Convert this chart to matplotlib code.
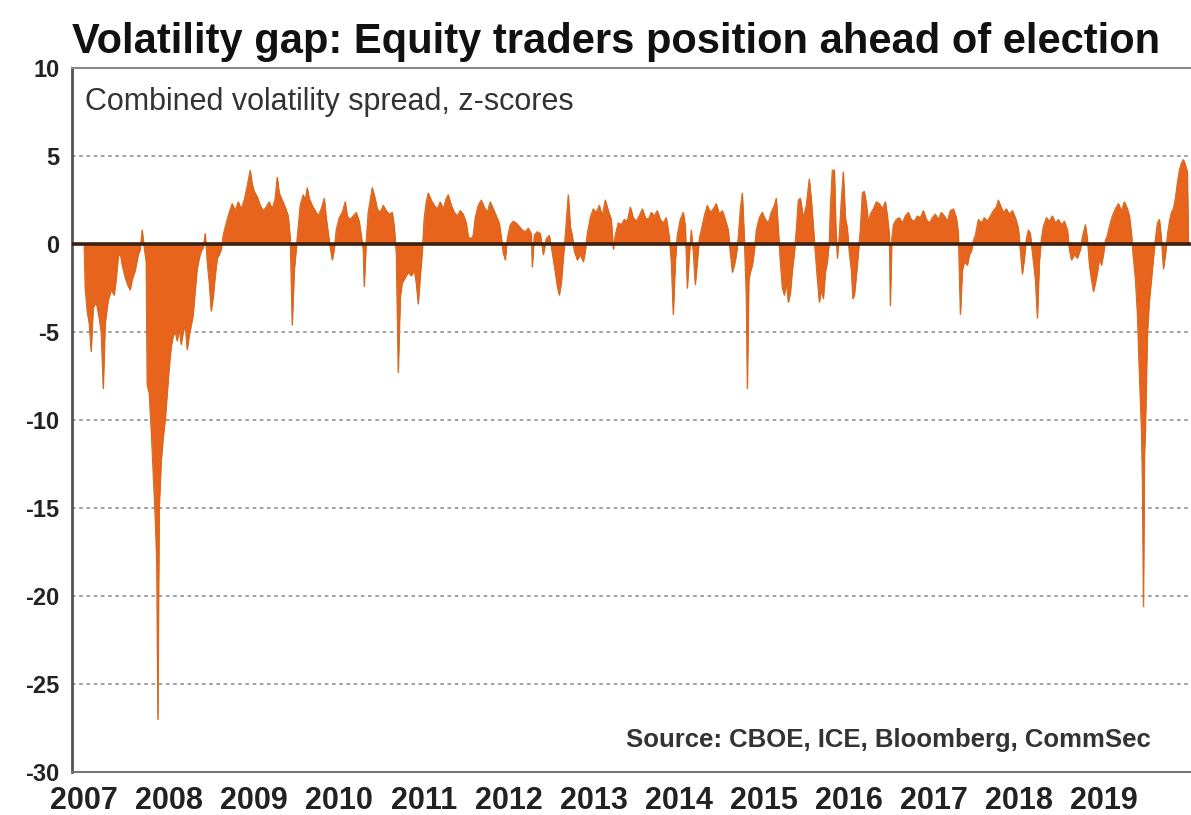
import matplotlib
matplotlib.use("Agg")
import matplotlib.pyplot as plt
import numpy as np

plt.rcParams['font.family'] = ['Liberation Sans', 'DejaVu Sans']

# combined volatility spread, z-scores (decimal years)
dates = [
    2007.000, 2007.012, 2007.035, 2007.059, 2007.082, 2007.106, 2007.141, 2007.176, 2007.200, 2007.224,
    2007.247, 2007.282, 2007.318, 2007.353, 2007.376, 2007.400, 2007.424, 2007.447, 2007.482, 2007.518,
    2007.541, 2007.565, 2007.600, 2007.635, 2007.659, 2007.682, 2007.706, 2007.729,
    2007.741, 2007.765, 2007.788, 2007.812, 2007.835, 2007.853, 2007.867, 2007.882, 2007.906, 2007.929,
    2007.953, 2007.976, 2008.000, 2008.024, 2008.047, 2008.071, 2008.094, 2008.118, 2008.141, 2008.165,
    2008.188, 2008.212, 2008.235, 2008.259, 2008.282, 2008.306, 2008.329, 2008.353, 2008.376, 2008.400,
    2008.424, 2008.447, 2008.471, 2008.494, 2008.518, 2008.541, 2008.565, 2008.588, 2008.612,
    2008.635, 2008.671, 2008.706, 2008.741, 2008.776, 2008.812, 2008.847, 2008.882, 2008.918, 2008.953,
    2008.976, 2009.000, 2009.035, 2009.071, 2009.106, 2009.141, 2009.176, 2009.212, 2009.247, 2009.271,
    2009.294, 2009.329, 2009.365, 2009.400, 2009.424, 2009.447, 2009.471, 2009.494,
    2009.518, 2009.541, 2009.576, 2009.600, 2009.624, 2009.647, 2009.682, 2009.718, 2009.753, 2009.788,
    2009.824, 2009.847, 2009.871, 2009.894, 2009.918, 2009.941,
    2009.965, 2010.000, 2010.035, 2010.071, 2010.094, 2010.129, 2010.165, 2010.200, 2010.235, 2010.259,
    2010.282, 2010.294, 2010.318,
    2010.341, 2010.365, 2010.388, 2010.412, 2010.447, 2010.482, 2010.518, 2010.553, 2010.588, 2010.624,
    2010.647, 2010.671,
    2010.694, 2010.718, 2010.741, 2010.776, 2010.812, 2010.847, 2010.882, 2010.906, 2010.929, 2010.953,
    2010.976,
    2011.000, 2011.024, 2011.047, 2011.082, 2011.118, 2011.153, 2011.188, 2011.224, 2011.259, 2011.282,
    2011.318, 2011.353, 2011.388, 2011.424, 2011.459, 2011.494, 2011.518, 2011.553, 2011.576,
    2011.600, 2011.635, 2011.671, 2011.706, 2011.741, 2011.776, 2011.812, 2011.847, 2011.882, 2011.906,
    2011.929, 2011.953, 2011.976, 2012.012, 2012.047, 2012.082, 2012.118,
    2012.153, 2012.188, 2012.224, 2012.259, 2012.271, 2012.294, 2012.329, 2012.365, 2012.400, 2012.435,
    2012.471, 2012.506, 2012.541, 2012.565, 2012.588, 2012.612, 2012.635, 2012.659, 2012.694, 2012.718,
    2012.741, 2012.765, 2012.800, 2012.835, 2012.871, 2012.894,
    2012.918, 2012.953, 2012.988, 2013.024, 2013.059, 2013.094, 2013.129, 2013.165, 2013.200, 2013.224,
    2013.247, 2013.282, 2013.318, 2013.353, 2013.388, 2013.424, 2013.459, 2013.494, 2013.529, 2013.565,
    2013.600, 2013.635, 2013.671, 2013.706, 2013.741, 2013.776, 2013.812, 2013.847, 2013.882, 2013.906,
    2013.929, 2013.953,
    2013.976, 2014.012, 2014.047, 2014.071, 2014.094, 2014.118, 2014.141, 2014.165, 2014.188, 2014.212,
    2014.235, 2014.259, 2014.294, 2014.329, 2014.365, 2014.400, 2014.435, 2014.471, 2014.506, 2014.541,
    2014.576, 2014.600, 2014.624, 2014.647, 2014.671, 2014.694, 2014.718, 2014.741, 2014.765, 2014.788,
    2014.800, 2014.818, 2014.835, 2014.859, 2014.882,
    2014.906, 2014.941, 2014.976, 2015.012, 2015.047, 2015.082, 2015.118, 2015.141, 2015.165, 2015.188,
    2015.212, 2015.235, 2015.259, 2015.282, 2015.306, 2015.329, 2015.353, 2015.376, 2015.400, 2015.424,
    2015.459, 2015.494, 2015.529, 2015.553, 2015.576, 2015.600, 2015.624, 2015.647, 2015.671, 2015.694,
    2015.718, 2015.741, 2015.765, 2015.776, 2015.800, 2015.824, 2015.841, 2015.859, 2015.882, 2015.906,
    2015.929, 2015.953, 2015.976, 2016.000, 2016.024, 2016.041, 2016.059, 2016.082, 2016.106, 2016.129,
    2016.153, 2016.176, 2016.200, 2016.224, 2016.247, 2016.282, 2016.318, 2016.353, 2016.388, 2016.424,
    2016.447, 2016.471, 2016.482, 2016.500,
    2016.518, 2016.553, 2016.588, 2016.624, 2016.659, 2016.694, 2016.729, 2016.765, 2016.800, 2016.835,
    2016.871, 2016.906, 2016.941, 2016.976, 2017.012, 2017.047, 2017.082, 2017.118, 2017.153, 2017.188,
    2017.224, 2017.259, 2017.282, 2017.306, 2017.329, 2017.353, 2017.388, 2017.412, 2017.435, 2017.459,
    2017.482, 2017.518, 2017.553, 2017.588, 2017.624, 2017.659, 2017.694, 2017.729, 2017.753, 2017.776,
    2017.812, 2017.847, 2017.882, 2017.918, 2017.953, 2017.988, 2018.012, 2018.035, 2018.059, 2018.082,
    2018.106, 2018.129, 2018.153, 2018.188, 2018.212, 2018.235, 2018.259,
    2018.282, 2018.318, 2018.353, 2018.388, 2018.424, 2018.459, 2018.494, 2018.529, 2018.565, 2018.588,
    2018.612, 2018.647, 2018.682, 2018.718, 2018.741, 2018.776, 2018.800, 2018.824, 2018.847, 2018.871,
    2018.894, 2018.918, 2018.941, 2018.965, 2018.988, 2019.012, 2019.035,
    2019.059, 2019.094, 2019.129, 2019.165, 2019.200, 2019.235, 2019.271, 2019.294, 2019.318, 2019.341,
    2019.365, 2019.388, 2019.412, 2019.435, 2019.447, 2019.459, 2019.471, 2019.482, 2019.506, 2019.529,
    2019.553, 2019.576, 2019.600,
    2019.624, 2019.647, 2019.671, 2019.694, 2019.718, 2019.741, 2019.765, 2019.788, 2019.812, 2019.835,
    2019.859, 2019.882, 2019.906, 2019.929, 2019.953, 2019.976, 2019.988,
]
zscore = [
    0.0, -2.5, -3.8, -4.5, -6.1, -3.6, -3.3, -4.2, -5.0, -8.2,
    -4.5, -3.2, -2.6, -2.9, -2.0, -0.7, -0.5, -1.2, -1.9, -2.4,
    -2.6, -2.0, -1.5, -0.6, -0.3, 0.8, -0.2, -1.0,
    -8.0, -8.5, -10.5, -13.0, -15.5, -18.0, -27.0, -15.0, -12.3, -11.0,
    -10.0, -8.5, -7.0, -5.8, -5.2, -5.0, -5.5, -4.8, -5.7, -5.0,
    -4.6, -6.0, -5.2, -4.6, -4.0, -2.6, -1.4, -0.8, -0.4, -0.2,
    0.6, -1.0, -2.2, -3.8, -3.0, -1.8, -0.8, -0.6, -0.3,
    0.5, 1.2, 1.8, 2.3, 1.9, 2.4, 2.0, 2.5, 3.3, 4.2,
    3.4, 3.0, 2.7, 2.2, 1.9, 2.1, 2.4, 2.0, 2.6, 3.8,
    2.9, 2.5, 2.1, 1.6, 0.3, -4.6, -1.5, -0.3,
    1.0, 2.2, 2.8, 2.5, 3.2, 2.6, 2.2, 1.9, 1.6, 2.0,
    2.6, 1.5, 0.6, -0.2, -0.9, -0.3,
    0.8, 1.5, 1.8, 2.4, 1.6, 1.4, 1.6, 1.8, 1.3, 0.5,
    -0.3, -2.4, 0.2,
    1.8, 2.5, 3.2, 2.8, 2.0, 1.8, 2.2, 1.9, 1.7, 1.8,
    1.0, -0.5,
    -7.3, -3.0, -2.2, -1.9, -1.6, -1.8, -1.5, -2.2, -3.4, -1.8,
    -0.5,
    1.5, 2.4, 2.9, 2.5, 2.2, 2.0, 2.4, 2.0, 2.6, 2.8,
    2.2, 1.8, 1.6, 1.9, 1.7, 1.2, 0.4, 0.3, 0.5,
    1.5, 2.2, 2.5, 2.1, 1.8, 2.4, 2.0, 1.6, 1.2, 0.4,
    -0.5, -0.9, 0.3, 1.1, 1.3, 1.2, 1.0,
    0.8, 0.7, 0.9, 0.6, -1.3, 0.5, 0.7, 0.6, -0.6, 0.3,
    0.5, -0.5, -1.6, -2.4, -2.9, -2.2, -0.8, 0.5, 2.8, 1.0,
    0.5, -0.4, -0.9, -0.6, -1.0, -0.4,
    0.6, 1.5, 2.0, 1.8, 2.2, 1.6, 2.5, 1.9, 1.4, -0.3,
    0.5, 1.2, 1.1, 1.4, 1.3, 2.1, 1.5, 1.3, 1.6, 2.0,
    1.5, 1.4, 1.8, 1.6, 1.9, 1.4, 1.2, 1.5, 0.4, -1.0,
    -4.0, -1.0,
    0.5, 1.4, 1.8, 1.0, -2.5, -0.6, 0.8, -0.5, -2.3, -1.0,
    0.3, 0.8, 1.6, 2.2, 1.8, 2.0, 2.3, 1.7, 1.9, 1.4,
    0.8, -0.5, -1.6, -1.2, -0.6, 0.4, 2.0, 2.9, 0.3, -3.0,
    -8.2, -2.0, -1.6, -1.2, -0.4,
    0.8, 1.5, 1.8, 1.4, 1.2, 1.8, 2.2, 2.6, 0.8, -1.0,
    -2.5, -2.9, -2.2, -3.3, -2.8, -1.5, -0.5, 0.8, 2.5, 2.6,
    1.5, 2.2, 3.7, 2.5, 1.0, -0.5, -2.0, -3.3, -2.6, -3.1,
    -1.6, -1.0, 0.2, 2.0, 4.2, 4.2, 1.0, -0.8, 0.5, 2.5,
    4.1, 1.5, 0.9, -0.5, -1.5, -3.1, -2.9, -1.8, -0.5, 0.8,
    2.9, 3.0, 2.3, 1.2, 1.7, 2.0, 2.4, 2.3, 2.0, 2.4,
    1.6, 0.5, -3.5, 0.3,
    1.1, 1.4, 1.5, 1.2, 1.6, 1.8, 1.4, 1.3, 1.6, 1.5,
    1.9, 1.4, 1.2, 1.5, 1.7, 1.4, 1.8, 1.6, 1.3, 1.9,
    2.0, 1.5, 0.6, -4.0, -1.5, -1.0, -1.2, -0.6, -0.4, 0.2,
    0.5, 1.4, 1.2, 1.5, 1.3, 1.6, 1.9, 2.1, 2.5, 2.2,
    1.8, 2.0, 1.7, 1.9, 1.5, 0.9, -0.4, -1.7, -0.8, 0.3,
    0.8, 0.6, -0.5, -2.0, -4.2, -1.0, 0.3,
    1.0, 1.5, 1.3, 1.6, 1.2, 1.4, 1.1, 1.3, 0.8, -0.3,
    -0.9, -0.6, -0.8, -0.3, 0.4, 1.1, 0.3, -1.2, -2.0, -2.7,
    -2.2, -1.6, -0.8, -1.2, -0.6, 0.2, 0.5,
    1.0, 1.6, 2.0, 2.3, 1.9, 2.4, 2.0, 1.6, 0.6, -0.8,
    -2.0, -4.0, -7.5, -10.5, -13.5, -20.6, -12.0, -10.5, -5.0, -3.2,
    -2.0, -0.8, 0.3,
    1.2, 1.4, 0.3, -1.4, -0.6, 0.5, 1.3, 1.8, 2.0, 2.6,
    3.5, 4.2, 4.6, 4.8, 4.5, 4.1, 0.0,
]
years = list(range(2007, 2020))
yticks = [10, 5, 0, -5, -10, -15, -20, -25, -30]

orange = '#E8631C'

fig = plt.figure(figsize=(11.91, 8.15), dpi=100)
ax = fig.add_axes([0.0605, 0.0528, 0.9395, 0.8638])

d = np.array(dates)
z = np.array(zscore)
ax.fill_between(d, 0, z, color=orange, lw=0.6, edgecolor=orange)
ax.plot(d, z, color='#D2691E', lw=0.7)

for g in [5, -5, -10, -15, -20, -25]:
    ax.axhline(g, color='#9a9a9a', lw=1.3, ls=(0, (2, 2)), zorder=0)
ax.axhline(0, color='#3b1f10', lw=2.6, zorder=3)

ax.set_xlim(2006.859, 2020.02)
ax.set_ylim(-30, 10)
ax.set_yticks(yticks)
ax.set_yticklabels([str(v) for v in yticks], fontsize=17, fontweight='bold', color='#222')
ax.set_xticks(years)
ax.set_xticklabels([str(y) for y in years], fontsize=22, fontweight='bold', color='#222')
ax.tick_params(axis='y', length=0, pad=9)
ax.tick_params(axis='x', length=0, pad=10)

ax.spines['right'].set_visible(False)
ax.spines['top'].set_color('#8a8a8a')
ax.spines['top'].set_linewidth(1.5)
ax.spines['bottom'].set_color('#777')
ax.spines['bottom'].set_linewidth(1.5)
ax.spines['left'].set_color('#555')
ax.spines['left'].set_linewidth(2)

fig.text(0.0605, 0.935, 'Volatility gap: Equity traders position ahead of election',
         fontsize=30, fontweight='bold', family=['Liberation Sans Narrow', 'Liberation Sans'],
         ha='left', va='baseline', color='#111')
ax.text(0.012, 0.952, 'Combined volatility spread, z-scores', transform=ax.transAxes,
        fontsize=22, ha='left', va='center', color='#333')
ax.text(0.964, 0.045, 'Source: CBOE, ICE, Bloomberg, CommSec', transform=ax.transAxes,
        fontsize=18.5, fontweight='bold', ha='right', va='center', color='#333')

fig.savefig('out.png', dpi=100)
